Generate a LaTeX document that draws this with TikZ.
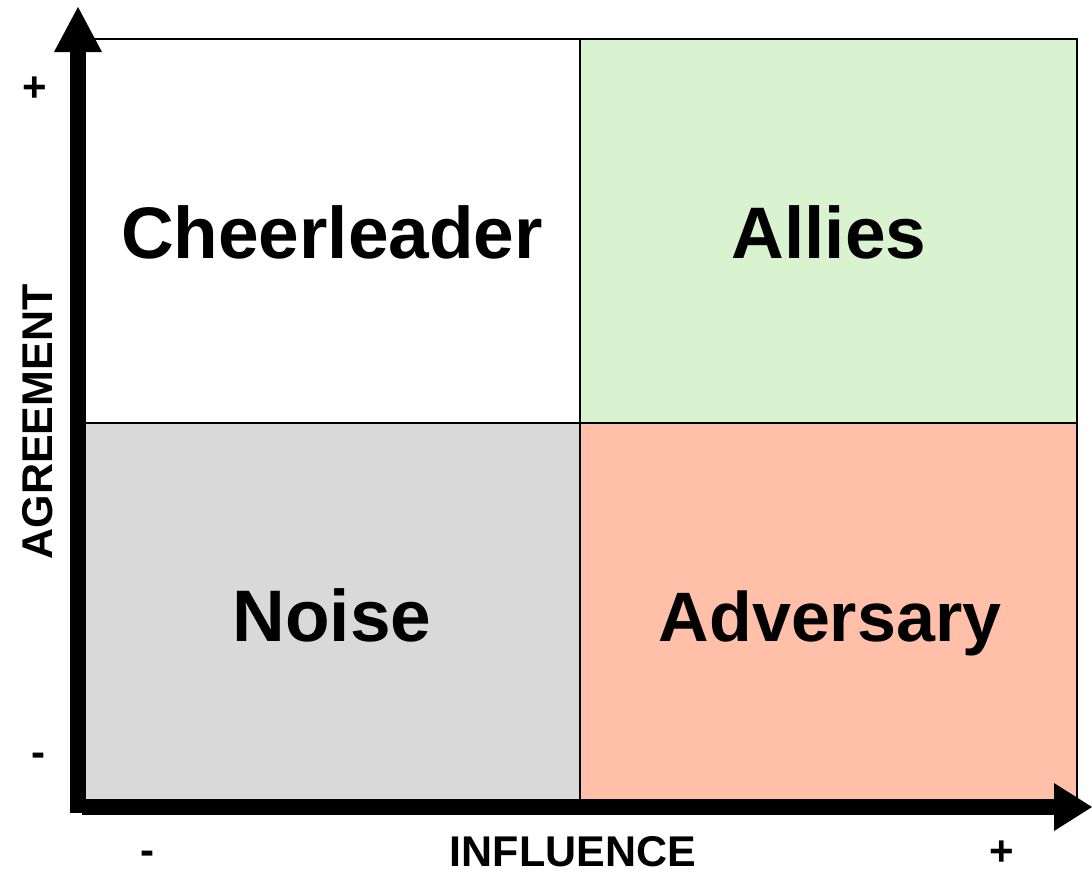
\documentclass[tikz,border=0pt]{standalone}
\usepackage{fontspec}
\setmainfont{Liberation Sans}
\definecolor{allygreen}{HTML}{D9F2D0}
\definecolor{advsalmon}{HTML}{FFBFA8}
\definecolor{noisegray}{HTML}{D9D9D9}
\begin{document}
\begin{tikzpicture}[x=0.5pt,y=-0.5pt,
  quad/.style={draw=black,line width=1pt},
  biglabel/.style={font=\fontsize{36.5}{40}\selectfont\bfseries,anchor=base,inner sep=0pt},
  axlabel/.style={font=\fontsize{21.5}{24}\selectfont\bfseries,anchor=base,inner sep=0pt},
  ticklabel/.style={font=\fontsize{21}{24}\selectfont\bfseries,inner sep=0pt},
  axisbar/.style={fill=black}]
\useasboundingbox (0,0) rectangle (1092,873);
% quadrants
\fill[white] (86,39) rectangle (580,423);
\fill[allygreen] (580,39) rectangle (1077,423);
\fill[noisegray] (86,423) rectangle (580,799);
\fill[advsalmon] (580,423) rectangle (1077,799);
\draw[quad] (86,39) -- (1077,39) -- (1077,799);
\draw[quad] (580,39) -- (580,799);
\draw[quad] (86,423) -- (1077,423);
% axes
\coordinate (origin) at (78,807);
\coordinate (ytip) at (78,7);
\coordinate (xtip) at (1092,807);
\fill[axisbar] (70,52) rectangle (86,813);
\fill[axisbar] (54,52) -- (102,52) -- (ytip) -- cycle;
\fill[axisbar] (82,799) rectangle (1054,815);
\fill[axisbar] (1054,783) -- (1054,831) -- (xtip) -- cycle;
% quadrant labels
\node[biglabel] (cheer) at (332,258) {Cheerleader};
\node[biglabel] (allies) at (829,258) {Allies};
\node[biglabel] (noise) at (332,641) {Noise};
\node[biglabel,font=\fontsize{35}{40}\selectfont\bfseries] (adv) at (830,641) {Adversary};
% axis labels
\node[axlabel] (infl) at (573,866) {INFLUENCE};
\node[axlabel,rotate=90] (agree) at (52,422) {AGREEMENT};
\node[ticklabel] (yplus) at (35,89) {+};
\node[ticklabel] (yminus) at (38,760) {-};
\node[ticklabel] (xminus) at (147,858) {-};
\node[ticklabel] (xplus) at (1002,853) {+};
\end{tikzpicture}
\end{document}
